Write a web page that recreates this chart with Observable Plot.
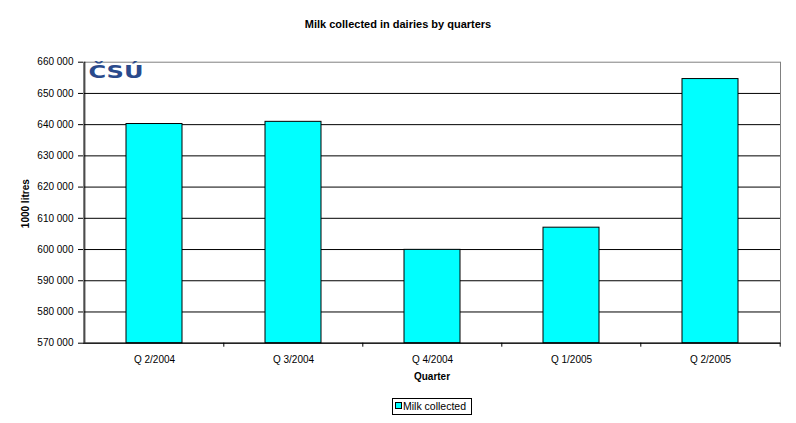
<!DOCTYPE html>
<html>
<head>
<meta charset="utf-8">
<script src="https://cdn.jsdelivr.net/npm/d3@7"></script>
<script src="https://cdn.jsdelivr.net/npm/@observablehq/plot@0.6"></script>
<style>
  html, body { margin: 0; padding: 0; background: #fff; }
  body { width: 796px; height: 423px; position: relative; overflow: hidden; font-family: "Liberation Sans", Arial, sans-serif; }
  #title { position: absolute; left: 0; top: 17px; width: 796px; text-align: center; font-weight: bold; font-size: 11px; line-height: 14px; color: #000; }
  #chart { position: absolute; left: 0; top: 40px; }
  #legend { position: absolute; left: 392px; top: 398px; width: 80px; height: 17px; box-sizing: border-box; border: 1px solid #000; font-size: 10.5px; line-height: 15px; color: #000; white-space: nowrap; }
  #legend .sw { display: inline-block; width: 5px; height: 5px; background: #00FFFF; border: 1px solid #000; margin-left: 2px; margin-right: 1px; vertical-align: 1px; }
</style>
</head>
<body>
<div id="title">Milk collected in dairies by quarters</div>
<div id="chart"></div>
<div id="legend"><span class="sw"></span>Milk collected</div>
<script>
const quarters = ["Q 2/2004", "Q 3/2004", "Q 4/2004", "Q 1/2005", "Q 2/2005"];
const milkCollected = [640200, 640900, 599900, 607000, 654600];
const yTicks = [570000, 580000, 590000, 600000, 610000, 620000, 630000, 640000, 650000, 660000];
const seriesName = "Milk collected";

const data = quarters.map((q, i) => ({quarter: q, value: milkCollected[i]}));

const W = 796, H = 350, ML = 83, MR = 16, MT = 21.7, MB = 47.3;
const step = (W - ML - MR) / quarters.length;
const fmt = d => d3.format(",")(d).replace(/,/g, " ");

const plot = Plot.plot({
  width: W,
  height: H,
  marginLeft: ML,
  marginRight: MR,
  marginTop: MT,
  marginBottom: MB,
  style: {fontFamily: "Liberation Sans, Arial, sans-serif", fontSize: "10px", color: "#000", background: "#fff"},
  x: {domain: quarters, paddingInner: 0.6, paddingOuter: 0.3, label: null},
  y: {domain: [570000, 660000], label: null},
  marks: [
    Plot.ruleY(yTicks.slice(0, -1), {stroke: "#000", strokeWidth: 1}),
    Plot.frame({stroke: "#808080", strokeWidth: 1}),
    Plot.barY(data, {x: "quarter", y1: 570000, y2: "value", fill: "#00FFFF", stroke: "#000", strokeWidth: 1}),
    Plot.ruleY([570000], {stroke: "#000", strokeWidth: 1}),
    Plot.ruleX([quarters[0]], {y1: 570000, y2: 660000, dx: -step / 2, stroke: "#000", strokeWidth: 1}),
    Plot.ruleX(quarters.slice(1), {y1: 570000, y2: 570000, insetBottom: -4, dx: -step / 2, stroke: "#000"}),
    Plot.ruleX([quarters[quarters.length - 1]], {y1: 570000, y2: 570000, insetBottom: -4, dx: step / 2, stroke: "#000"}),
    Plot.axisY({ticks: yTicks, tickFormat: fmt, tickSize: 5, tickPadding: 5, fontSize: 10, label: null, stroke: "#000"}),
    Plot.axisX({tickSize: 0, tickPadding: 12.5, fontSize: 10, label: null}),
    Plot.text(["1000 litres"], {frameAnchor: "left", dx: -58, dy: 1, rotate: -90, text: d => d, fontWeight: "bold", fontSize: 10, textAnchor: "middle", lineAnchor: "middle", fill: "#000"}),
    Plot.text(["Quarter"], {frameAnchor: "bottom", dy: 34, text: d => d, fontWeight: "bold", fontSize: 10, textAnchor: "middle", lineAnchor: "middle", fill: "#000"}),
    Plot.text(["ČSÚ"], {frameAnchor: "top-left", dx: 5, dy: 4, text: d => d, fontWeight: "900", fontSize: 17, fontFamily: "DejaVu Sans", textAnchor: "start", lineAnchor: "top", fill: "#2a4a8c", className: "logo"})
  ]
});
document.getElementById("chart").appendChild(plot);
d3.select(plot).selectAll(".logo text").attr("textLength", 55).attr("lengthAdjust", "spacingAndGlyphs");
</script>
</body>
</html>
